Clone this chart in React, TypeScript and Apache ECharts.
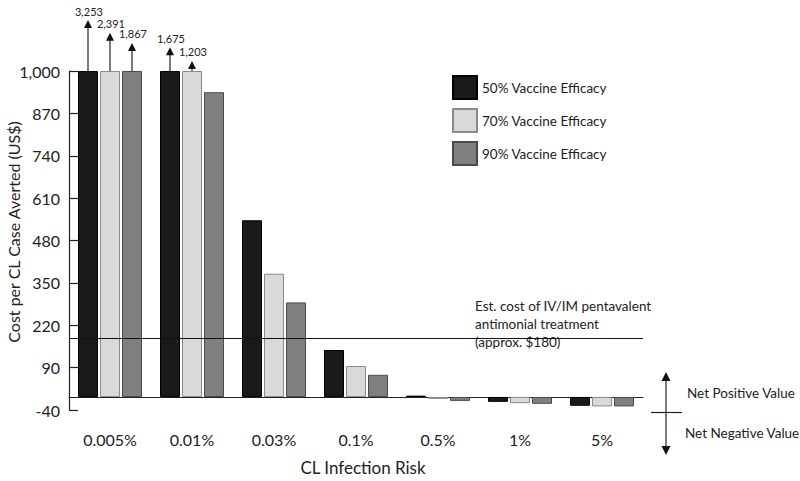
import { useEffect, useRef } from "react";
import * as echarts from "echarts";

const categories = ["0.005%", "0.01%", "0.03%", "0.1%", "0.5%", "1%", "5%"];
const seriesNames = ["50% Vaccine Efficacy", "70% Vaccine Efficacy", "90% Vaccine Efficacy"];
const efficacy50 = [3253, 1675, 542, 144, 4, -15, -27];
const efficacy70 = [2391, 1203, 378, 95, -6, -19, -29];
const efficacy90 = [1867, 935, 290, 68, -12, -21, -29];
const yMin = -40;
const yMax = 1000;
const yInterval = 130;
const treatmentCost = 180;
const annotationLines = ["Est. cost of IV/IM pentavalent", "antimonial treatment", "(approx. $180)"];

const FONT = "Lato, 'Open Sans', sans-serif";

export default function App() {
  const ref = useRef<HTMLDivElement>(null);
  useEffect(() => {
    if (!ref.current) return;
    const chart = echarts.init(ref.current, undefined, { renderer: "svg" });
    const all = [efficacy50, efficacy70, efficacy90];
    const fills = ["#1a1a1a", "#d9d9d9", "#808080"];
    const borders = ["#000000", "#8a8a8a", "#4a4a4a"];
    const overflow: number[][] = [];
    all.forEach((arr, s) =>
      arr.forEach((v, i) => {
        if (v > yMax) overflow.push([i, s, v]);
      })
    );
    const barSeries = all.map((arr, s) => ({
      name: seriesNames[s],
      type: "bar",
      xAxisIndex: 0,
      yAxisIndex: 0,
      barWidth: 20,
      barGap: "10%",
      z: 2,
      data: arr.map((v) => Math.min(v, yMax)),
      itemStyle: { color: fills[s], borderColor: borders[s], borderWidth: 1 },
      markLine:
        s === 2
          ? {
              silent: true,
              symbol: "none",
              z: 5,
              label: { show: false },
              lineStyle: { color: "#111", width: 1.2, type: "solid" },
              data: [{ yAxis: treatmentCost }],
            }
          : undefined,
    }));
    const option: any = {
      animation: false,
      backgroundColor: "#ffffff",
      textStyle: { fontFamily: FONT },
      grid: { left: 69, right: 157, top: 71, bottom: 54 },
      legend: {
        data: seriesNames,
        orient: "vertical",
        left: 447,
        top: 70,
        icon: "rect",
        itemWidth: 24,
        itemHeight: 23,
        itemGap: 8,
        textStyle: { fontSize: 13.5, color: "#222", fontFamily: FONT },
        selectedMode: false,
      },
      xAxis: {
        type: "category",
        data: categories,
        axisLine: { onZero: true, onZeroAxisIndex: 0, lineStyle: { color: "#222", width: 1.2 } },
        axisTick: { inside: true, length: 9, lineStyle: { color: "#222", width: 1.2 } },
        axisLabel: { fontSize: 16, color: "#222", margin: 21, fontFamily: FONT },
        name: "CL Infection Risk",
        nameLocation: "middle",
        nameGap: 49,
        nameTextStyle: { fontSize: 17, color: "#222", fontFamily: FONT, padding: [0, 0, 0, 14] },
      },
      yAxis: [
        { type: "value", min: yMin, max: yMax, show: false },
        {
          type: "value",
          min: 0,
          max: yMax - yMin,
          interval: yInterval,
          position: "left",
          axisLine: { show: true, lineStyle: { color: "#222", width: 1.2 } },
          axisTick: { show: true, inside: true, length: 9, lineStyle: { color: "#222", width: 1.2 } },
          splitLine: { show: false },
          axisLabel: {
            fontSize: 16,
            color: "#222",
            margin: 9,
            fontFamily: FONT,
            formatter: (v: number) => (v + yMin).toLocaleString("en-US"),
          },
        },
      ],
      series: [
        ...barSeries,
        {
          name: "overflow",
          type: "custom",
          xAxisIndex: 0,
          yAxisIndex: 0,
          clip: false,
          z: 6,
          silent: true,
          encode: { x: 0, y: 2 },
          data: overflow,
          renderItem: (params: any, api: any) => {
            const ci = api.value(0);
            const s = api.value(1);
            const v = api.value(2);
            const base = api.coord([ci, yMax]);
            const x = base[0] + (s - 1) * 22;
            const len = 2.4 + 41.2 * Math.log(v / yMax);
            const top = base[1] - len;
            return {
              type: "group",
              children: [
                {
                  type: "line",
                  shape: { x1: x, y1: base[1], x2: x, y2: top + 6 },
                  style: { stroke: "#333", lineWidth: 1.3 },
                },
                {
                  type: "polygon",
                  shape: { points: [[x, top], [x - 4, top + 8], [x + 4, top + 8]] },
                  style: { fill: "#111" },
                },
                {
                  type: "text",
                  style: {
                    text: v.toLocaleString("en-US"),
                    x: x + 1,
                    y: top - 9,
                    align: "center",
                    verticalAlign: "middle",
                    fontSize: 11,
                    fill: "#222",
                    fontFamily: FONT,
                  },
                },
              ],
            };
          },
        },
      ],
      graphic: [
        {
          type: "text",
          x: 13,
          y: 232,
          rotation: Math.PI / 2,
          style: {
            text: "Cost per CL Case Averted (US$)",
            align: "center",
            verticalAlign: "middle",
            fontSize: 16,
            fill: "#222",
            fontFamily: FONT,
          },
        },
        {
          type: "text",
          x: 475,
          y: 297,
          style: {
            text: annotationLines.join("\n"),
            fontSize: 13.5,
            lineHeight: 18,
            fill: "#222",
            fontFamily: FONT,
          },
        },
        { type: "line", shape: { x1: 651, y1: 412.5, x2: 682, y2: 412.5 }, style: { stroke: "#222", lineWidth: 1.2 } },
        { type: "line", shape: { x1: 666, y1: 378, x2: 666, y2: 449 }, style: { stroke: "#333", lineWidth: 1.3 } },
        { type: "polygon", shape: { points: [[666, 372], [661.5, 381], [670.5, 381]] }, style: { fill: "#111" } },
        { type: "polygon", shape: { points: [[666, 455], [661.5, 446], [670.5, 446]] }, style: { fill: "#111" } },
        {
          type: "text",
          x: 687,
          y: 393,
          style: { text: "Net Positive Value", verticalAlign: "middle", fontSize: 13.5, fill: "#222", fontFamily: FONT },
        },
        {
          type: "text",
          x: 685,
          y: 433,
          style: { text: "Net Negative Value", verticalAlign: "middle", fontSize: 13.5, fill: "#222", fontFamily: FONT },
        },
      ],
    };
    chart.setOption(option);
    return () => chart.dispose();
  }, []);
  return (
    <div
      ref={ref}
      style={{ position: "fixed", left: 0, top: 0, width: 800, height: 481, background: "#fff" }}
    />
  );
}
